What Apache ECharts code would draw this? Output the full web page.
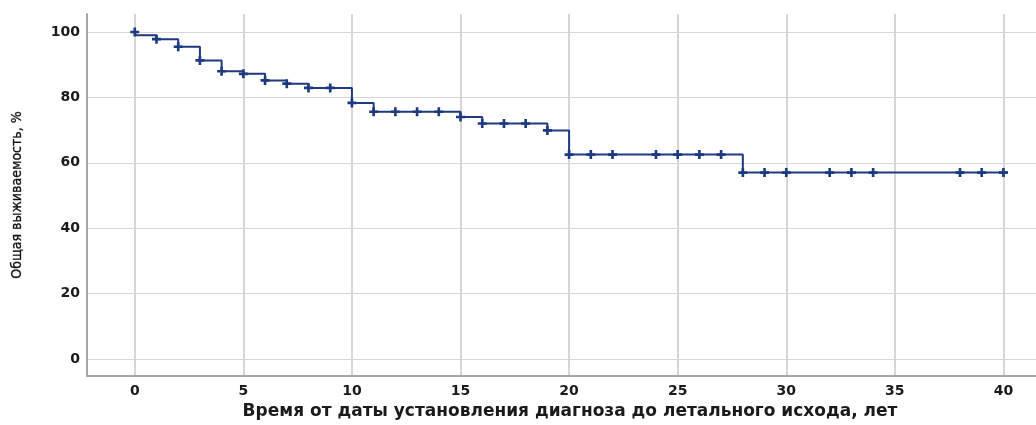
<!DOCTYPE html>
<html>
<head>
<meta charset="utf-8">
<script src="https://cdn.jsdelivr.net/npm/echarts@6/dist/echarts.min.js"></script>
<style>
    html, body { margin: 0; padding: 0; background: #fff; }
    #chart { width: 1036px; height: 425px; }
</style>
</head>
<body>
<div id="chart"></div>
<script>
// Кривая выживаемости (Каплан-Майер)

// моменты событий (лет) и значение выживаемости после каждого из них, %
const eventTimes = [0.05, 1, 2, 3, 4, 5, 6, 7, 8, 10, 11, 15, 16, 19, 20, 28];
const survival = [99.0, 97.8, 95.5, 91.3, 88.0, 87.2, 85.2, 84.2, 82.9, 78.3, 75.6, 74.0, 72.0, 69.9, 62.5, 57.0];
const endTime = 40.2;

// цензурированные наблюдения (лет)
const censorTimes = [0, 1, 2, 3, 4, 5, 6, 7, 8, 9, 10, 11, 12, 13, 14, 15, 16, 17, 18, 19, 20,
    21, 22, 24, 25, 26, 27, 28, 29, 30, 32, 33, 34, 38, 39, 40];

// подписи осей
const xTicks = [0, 5, 10, 15, 20, 25, 30, 35, 40];
const yTicks = [0, 20, 40, 60, 80, 100];

const lineColor = '#1d3a80';
const gridColor = '#d6d6d6';
const axisColor = '#a6a6a6';

function survivalAt(t) {
    let s = 100;
    for (let i = 0; i < eventTimes.length; i++) {
        if (eventTimes[i] <= t) s = survival[i];
    }
    return s;
}

document.addEventListener('DOMContentLoaded', function() {
    initSurvivalChart();
});

function initSurvivalChart() {
    const chart = echarts.init(document.getElementById('chart'));

    const stepData = [[0, 100]];
    eventTimes.forEach(function(t, i) {
        stepData.push([t, survival[i]]);
    });
    stepData.push([endTime, survival[survival.length - 1]]);

    const censorData = censorTimes.map(t => [t, survivalAt(t)]);

    const option = {
        animation: false,
        grid: {
            left: 87,
            right: 0,
            top: 14,
            bottom: 47
        },
        xAxis: {
            type: 'value',
            min: -2.2,
            max: 41.5,
            name: 'Время от даты установления диагноза до летального исхода, лет',
            nameLocation: 'middle',
            nameGap: 27,
            nameTextStyle: {
                fontFamily: 'DejaVu Sans',
                fontWeight: 'bold',
                fontSize: 17,
                color: '#1a1a1a',
                padding: [0, 0, 0, 17]
            },
            axisLine: { show: true, onZero: false, lineStyle: { color: axisColor, width: 2 } },
            axisTick: { show: false, customValues: xTicks },
            axisLabel: {
                customValues: xTicks,
                margin: 8,
                fontFamily: 'DejaVu Sans',
                fontWeight: 'bold',
                fontSize: 14,
                color: '#1a1a1a'
            },
            splitLine: { show: true, lineStyle: { color: gridColor, width: 2 } }
        },
        yAxis: {
            type: 'value',
            min: -5.2,
            max: 105.5,
            name: 'Общая выживаемость, %',
            nameLocation: 'middle',
            nameGap: 63,
            nameTextStyle: {
                fontFamily: 'Liberation Sans Narrow, DejaVu Sans Condensed, sans-serif',
                fontSize: 14,
                color: '#111',
                textBorderColor: '#111',
                textBorderWidth: 0.3
            },
            axisLine: { show: true, onZero: false, lineStyle: { color: axisColor, width: 2 } },
            axisTick: { show: false, customValues: yTicks },
            axisLabel: {
                customValues: yTicks,
                margin: 7,
                fontFamily: 'DejaVu Sans',
                fontWeight: 'bold',
                fontSize: 14,
                color: '#1a1a1a'
            },
            splitLine: { show: true, lineStyle: { color: gridColor, width: 1 } }
        },
        series: [{
            name: 'Выживаемость',
            type: 'line',
            step: 'end',
            data: stepData,
            showSymbol: false,
            lineStyle: { color: lineColor, width: 2 }
        }, {
            name: 'Цензурированные',
            type: 'scatter',
            data: censorData,
            symbol: 'path://M3,0 H5.5 V3 H8.5 V5.5 H5.5 V8.5 H3 V5.5 H0 V3 H3 Z',
            symbolSize: [9, 9],
            itemStyle: { color: lineColor, opacity: 1 }
        }]
    };

    chart.setOption(option);

    window.addEventListener('resize', function() {
        chart.resize();
    });
}
</script>
</body>
</html>
